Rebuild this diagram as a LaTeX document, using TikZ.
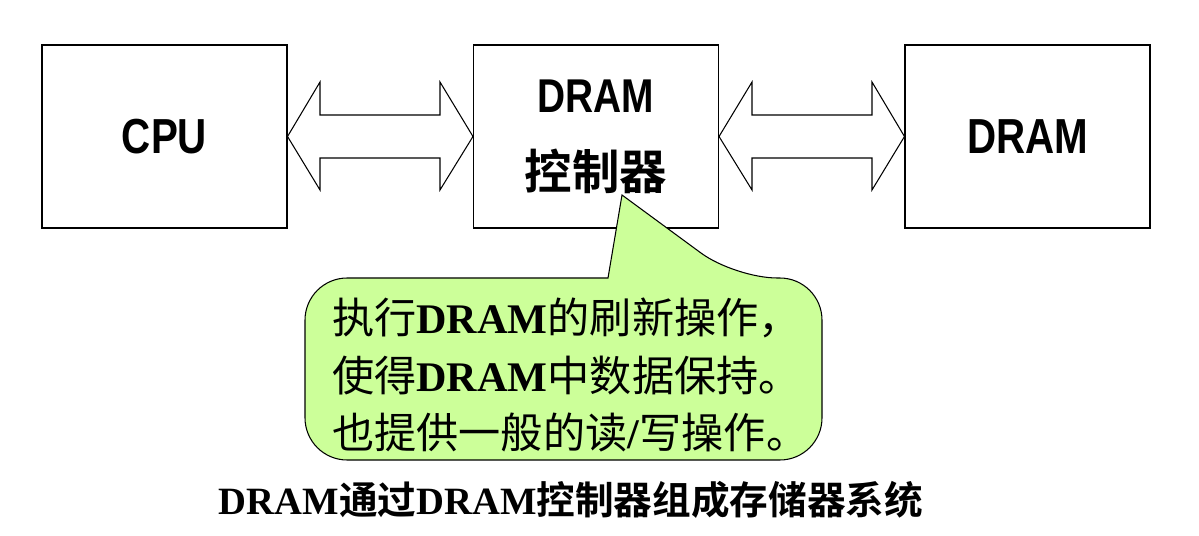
\documentclass[tikz,border=0pt]{standalone}
\usepackage{fontspec}
\setmainfont{Liberation Serif}
\setsansfont{Liberation Sans}
\newfontfamily\cjk{Noto Sans CJK SC}
\newfontfamily\cjkb{Noto Sans CJK SC Bold}
\begin{document}
\begin{tikzpicture}[x=0.02cm,y=-0.02cm,
  blk/.style={draw,line width=0.6pt,minimum width=245*0.02cm,minimum height=183*0.02cm,inner sep=0pt},
  dbl/.style={draw,line width=0.6pt,fill=white},
  lbl/.style={font=\fontsize{28}{34}\sffamily\bfseries}]
\useasboundingbox (0,0) rectangle (1199,536);
\node[blk] (cpu) at (164.5,136.5) {};
\node[lbl,xscale=0.82] at (cpu) {CPU};
\node[blk] (ctl) at (596,136.5) {};
\node[align=center,font=\fontsize{27}{44}\selectfont] at (ctl) {\sffamily\bfseries\scalebox{0.82}[1]{DRAM}\\ \cjkb 控制器};
\node[blk] (dram) at (1027.5,136.5) {};
\node[lbl,xscale=0.82] at (dram) {DRAM};
% double arrows
\draw[dbl] (cpu.east) -- (320,82) -- (320,115) -- (440,115) -- (440,82) -- (ctl.west) -- (440,190) -- (440,158) -- (320,158) -- (320,190) -- cycle;
\draw[dbl] (ctl.east) -- (752,82) -- (752,115) -- (872,115) -- (872,82) -- (dram.west) -- (872,190) -- (872,158) -- (752,158) -- (752,190) -- cycle;
% callout
\coordinate (tip) at (622,195);
\draw[line width=0.6pt,fill={rgb,255:red,204;green,255;blue,153},rounded corners=24]
  (608,278) -- (305,278) -- (305,460) -- (822,460) -- (822,278) -- (735,278)
  [sharp corners] -- (tip) -- cycle;
\node[anchor=west,align=left,font=\fontsize{24}{33}\selectfont] (txt) at (326,375)
 {{\cjk 执行}\textbf{DRAM}{\cjk 的刷新操作，}\\
  {\cjk 使得}\textbf{DRAM}{\cjk 中数据保持。}\\
  {\cjk 也提供一般的读}\textbf{/}{\cjk 写操作。}};
\node[font=\fontsize{22}{26}\selectfont] (cap) at (571,500) {\textbf{DRAM}{\cjkb 通过}\textbf{DRAM}{\cjkb 控制器组成存储器系统}};
\end{tikzpicture}
\end{document}
